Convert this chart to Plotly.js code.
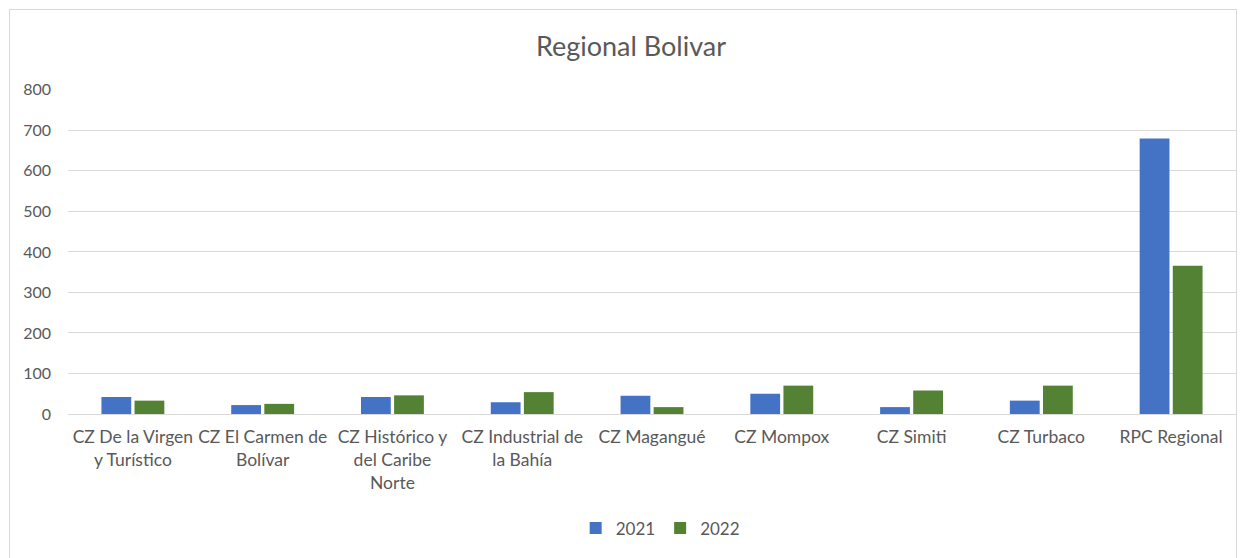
<!DOCTYPE html>
<html>
<head>
<meta charset="utf-8">
<script src="https://cdn.plot.ly/plotly-3.0.1.min.js"></script>
<style>
html,body{margin:0;padding:0;background:#fff;}
#frame{position:absolute;left:9px;top:9px;width:1228px;height:560px;border:1px solid #d9d9d9;box-sizing:border-box;}
#chart{position:absolute;left:0;top:0;width:1247px;height:558px;}
</style>
</head>
<body>
<div id="frame"></div>
<div id="chart"></div>
<script>
const categories = ["CZ De la Virgen y Turístico","CZ El Carmen de Bolívar","CZ Histórico y del Caribe Norte","CZ Industrial de la Bahía","CZ Magangué","CZ Mompox","CZ Simiti","CZ Turbaco","RPC Regional"];
const tickLabels = ["CZ De la Virgen<br>y Turístico","CZ El Carmen de<br>Bolívar","CZ Histórico y<br>del Caribe<br>Norte","CZ Industrial de<br>la Bahía","CZ Magangué","CZ Mompox","CZ Simiti","CZ Turbaco","RPC Regional"];
const values2021 = [42, 22, 42, 29, 45, 50, 17, 33, 680];
const values2022 = [33, 25, 46, 54, 17, 70, 58, 70, 366];
const yTicks = [0,100,200,300,400,500,600,700,800];

const fontFam = "Lato, 'Noto Sans', sans-serif";
const data = [
  {type:'bar', name:'2021', x:categories, y:values2021, marker:{color:'#4472C4'}},
  {type:'bar', name:'2022', x:categories, y:values2022, marker:{color:'#548235'}}
];
const layout = {
  width:1247, height:558,
  paper_bgcolor:'rgba(0,0,0,0)', plot_bgcolor:'rgba(0,0,0,0)',
  margin:{l:68, r:11, t:89, b:141},
  title:{text:'Regional Bolivar', x:0.506, xanchor:'center', y:0.917, yanchor:'middle', font:{family:fontFam, size:27, color:'#595959'}},
  font:{family:fontFam, size:16, color:'#595959'},
  barmode:'group', bargap:0.49, bargroupgap:0.1,
  xaxis:{type:'category', automargin:false, tickmode:'array', tickvals:categories, ticktext:tickLabels, showgrid:false, zeroline:false,
         showline:true, linecolor:'#d9d9d9', linewidth:1, ticks:'', ticklabelstandoff:7, tickfont:{family:fontFam, size:17.5, color:'#595959'}, tickangle:0},
  yaxis:{automargin:false, range:[0,802], tickmode:'array', tickvals:yTicks, showgrid:true, gridcolor:'#d9d9d9', gridwidth:1, zeroline:false,
         showline:false, ticks:'', ticklen:0, ticklabelstandoff:16, tickfont:{family:fontFam, size:16, color:'#595959'}},
  showlegend:true,
  legend:{orientation:'h', x:0.507, xanchor:'center', y:-0.352, yanchor:'middle', font:{family:fontFam, size:17, color:'#595959'}, itemwidth:30, traceorder:'normal'}
};
Plotly.newPlot('chart', data, layout, {displayModeBar:false, staticPlot:true});
</script>
</body>
</html>
